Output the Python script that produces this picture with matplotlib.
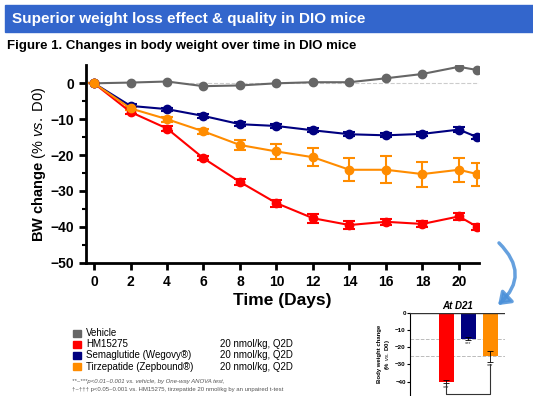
import matplotlib.pyplot as plt
from matplotlib.patches import Rectangle, FancyArrowPatch

plt.rcParams['font.family'] = ['Liberation Sans', 'DejaVu Sans']
plt.rcParams['mathtext.fontset'] = 'custom'
plt.rcParams['mathtext.rm'] = 'Liberation Sans'
plt.rcParams['mathtext.it'] = 'Liberation Sans:italic'
plt.rcParams['mathtext.bf'] = 'Liberation Sans:bold'

days = [0, 2, 4, 6, 8, 10, 12, 14, 16, 18, 20, 21]
vehicle = [0, 0.2, 0.5, -0.8, -0.6, 0.0, 0.3, 0.3, 1.4, 2.6, 4.6, 3.7]
hm15275 = [0, -8.0, -12.6, -20.9, -27.5, -33.4, -37.6, -39.5, -38.6, -39.2, -37.1, -40.0]
hm_err = [0, 0.5, 0.6, 0.6, 0.8, 1.0, 1.3, 1.1, 0.9, 0.8, 0.9, 0.9]
sema = [0, -6.3, -7.2, -9.1, -11.4, -11.9, -13.1, -14.2, -14.5, -14.1, -12.9, -15.0]
sema_err = [0, 0.4, 0.4, 0.5, 0.5, 0.5, 0.6, 0.6, 0.6, 0.6, 0.6, 0.6]
tirz = [0, -7.0, -10.0, -13.4, -17.2, -19.0, -20.6, -24.1, -24.1, -25.3, -24.1, -25.3]
tirz_err = [0, 0.5, 0.7, 0.8, 1.3, 2.1, 2.5, 3.2, 3.7, 3.5, 3.3, 3.2]

groups = ['Vehicle', 'HM15275', 'Semaglutide (Wegovy®)', 'Tirzepatide (Zepbound®)']
doses = ['', '20 nmol/kg, Q2D', '20 nmol/kg, Q2D', '20 nmol/kg, Q2D']
colors = ['#666666', '#FF0000', '#000080', '#FF8C00']
d21 = [vehicle[-1], hm15275[-1], sema[-1], tirz[-1]]
d21_err = [0.6, hm_err[-1], sema_err[-1], tirz_err[-1]]

fig = plt.figure(figsize=(5.33, 3.96), dpi=100)

# header band
fig.patches.append(Rectangle((5 / 533, 1 - 32 / 396), 528 / 533, 27 / 396,
                             transform=fig.transFigure, color='#3366CC'))
fig.text(12 / 533, 1 - 18.5 / 396, 'Superior weight loss effect & quality in DIO mice',
         color='white', fontsize=11, fontweight='bold', va='center')
fig.text(7 / 533, 1 - 46 / 396, 'Figure 1. Changes in body weight over time in DIO mice',
         fontsize=9.5, fontweight='bold', va='center')

ax = fig.add_axes([86 / 533, 1 - 262.7 / 396, 393 / 533, 197.7 / 396])
ax.axhline(0, xmin=0.25, xmax=1, color='#cccccc', lw=0.8, ls='--', zorder=0)
series = [(vehicle, None), (hm15275, hm_err), (sema, sema_err), (tirz, tirz_err)]
for (vals, err), c in zip(series, colors):
    ax.errorbar(days, vals, yerr=err, color=c, marker='o', ms=6, lw=1.5,
                capsize=4, elinewidth=1.5, capthick=1.5)
ax.set_xlim(-0.44, 21.1)
ax.set_ylim(-50, 5.1)
ax.set_xticks(range(0, 21, 2))
ax.set_yticks(range(-50, 1, 10))
ax.set_yticks(range(-45, 5, 10), minor=True)
for s in ['top', 'right']:
    ax.spines[s].set_visible(False)
for s in ['left', 'bottom']:
    ax.spines[s].set_linewidth(2)
ax.tick_params(width=2, length=5, labelsize=10)
ax.tick_params(which='minor', width=1.5, length=3)
for lab in ax.get_xticklabels() + ax.get_yticklabels():
    lab.set_fontweight('bold')
ax.set_ylabel(r'$\mathbf{BW\ change}$ (% $\mathit{vs.}$ D0)', fontsize=10.5, labelpad=2)
ax.set_xlabel('Time (Days)', fontsize=12.5, fontweight='bold', labelpad=3)

# legend
for i, (g, d, c) in enumerate(zip(groups, doses, colors)):
    y = 1 - (333 + i * 11.2) / 396
    fig.patches.append(Rectangle((73 / 533, y - 3.5 / 396), 8 / 533, 7 / 396,
                                 transform=fig.transFigure, color=c))
    fig.text(86 / 533, y, g, fontsize=7, va='center')
    fig.text(220 / 533, y, d, fontsize=7, va='center')
fig.text(72 / 533, 1 - 382 / 396,
         '**~***p<0.01~0.001 vs. vehicle, by One-way ANOVA test,',
         fontsize=4.3, color='#555555', va='center', style='italic')
fig.text(72 / 533, 1 - 390 / 396,
         '†~††† p<0.05~0.001 vs. HM15275, tirzepatide 20 nmol/kg by an unpaired t-test',
         fontsize=4.3, color='#555555', va='center')

# inset bar chart
ax2 = fig.add_axes([410 / 533, 0, 95 / 533, 83.3 / 396])
ax2.set_ylim(-48.4, 0)
ax2.set_xlim(-0.64, 3.68)
ax2.bar(range(4), d21, width=0.68, color=colors, yerr=d21_err, capsize=2,
        error_kw=dict(lw=0.6, capthick=0.6), zorder=2)
ax2.axhline(-15, color='#bbbbbb', ls='--', lw=0.7, zorder=1)
ax2.axhline(-25, color='#bbbbbb', ls='--', lw=0.7, zorder=1)
ax2.axhline(0, color='#333333', lw=1, zorder=3)
for s in ['top', 'right', 'bottom']:
    ax2.spines[s].set_visible(False)
ax2.spines['left'].set_linewidth(0.8)
ax2.set_xticks([])
ax2.set_yticks(range(-40, 1, 10))
ax2.tick_params(labelsize=4.5, width=0.8, length=2, pad=1)
for lab in ax2.get_yticklabels():
    lab.set_fontweight('bold')
ax2.set_ylabel('Body weight change\n' + r'(% $\mathit{vs.}$ D0)', fontsize=4.3,
               fontweight='bold', labelpad=2)
ax2.set_title('At D21', fontsize=7, fontweight='bold', style='italic', pad=3)
for xi in [1, 2, 3]:
    ax2.text(xi, d21[xi] - d21_err[xi] - 1, '***', ha='center', va='top',
             fontsize=4, color='#333333')
ax2.plot([1, 1, 3, 3], [-41.5, -47, -47, -30], color='#333333', lw=0.8, clip_on=False)

# blue curved arrow
arr = FancyArrowPatch((497 / 533, 1 - 241 / 396), (496 / 533, 1 - 307 / 396),
                      transform=fig.transFigure, connectionstyle='arc3,rad=-0.55',
                      arrowstyle='-|>,head_length=7,head_width=5', lw=2.5,
                      color='#4A90D9', alpha=0.85)
fig.patches.append(arr)

fig.savefig('out.png', dpi=100)
